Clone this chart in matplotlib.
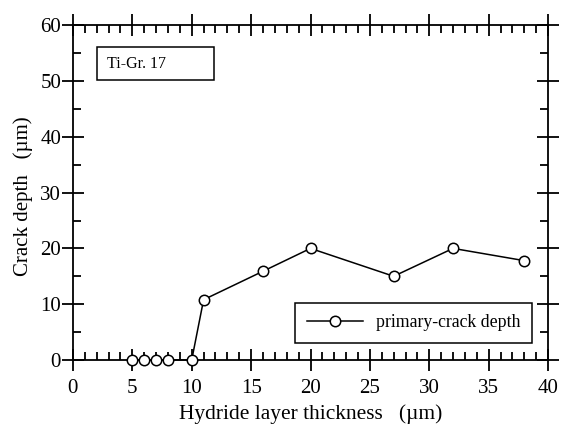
import matplotlib.pyplot as plt
from matplotlib.patches import Rectangle
from matplotlib.ticker import MultipleLocator

# hydride layer thickness (um) vs primary crack depth (um)
thickness = [5, 6, 7, 8, 10, 11, 16, 20, 27, 32, 38]
crack_depth = [0, 0, 0, 0, 0, 10.8, 15.9, 20, 15, 20, 17.8]
series_label = "primary-crack depth"
material = "Ti-Gr. 17"

plt.rcParams['font.family'] = ['Liberation Serif', 'DejaVu Serif']
plt.rcParams['mathtext.fontset'] = 'stix'

fig = plt.figure(figsize=(5.61, 4.29), dpi=100)
ax = fig.add_axes([0.130, 0.161, 0.847, 0.780])

ax.plot(thickness, crack_depth, color="black", lw=1.1, marker="o", ms=7.5,
        mfc="white", mec="black", mew=1.1, label=series_label, clip_on=False, zorder=5)

ax.set_xlim(0, 40)
ax.set_ylim(0, 60)
ax.xaxis.set_major_locator(MultipleLocator(5))
ax.xaxis.set_minor_locator(MultipleLocator(1))
ax.yaxis.set_major_locator(MultipleLocator(10))
ax.yaxis.set_minor_locator(MultipleLocator(5))

for s in ax.spines.values():
    s.set_linewidth(1.3)

ax.tick_params(which="major", direction="inout", length=16, width=1.3,
               top=True, right=True, labelsize=15)
ax.tick_params(which="minor", direction="in", length=6, width=1.3,
               top=True, right=True)
ax.tick_params(axis="x", which="major", pad=6)
ax.tick_params(axis="y", which="major", pad=0.5)

ax.set_xlabel("Hydride layer thickness   (\u00b5m)", fontsize=15.4, labelpad=4)
ax.set_ylabel("Crack depth   (\u00b5m)", fontsize=15, labelpad=4)
ax.yaxis.set_label_coords(-0.085, 0.49)

ax.add_patch(Rectangle((0.05, 0.836), 0.246, 0.098, transform=ax.transAxes,
                       fill=False, ec="black", lw=1.1, zorder=6))
ax.text(0.072, 0.885, material, transform=ax.transAxes, fontsize=11.5,
        va="center", ha="left")

leg = ax.legend(loc="lower right", bbox_to_anchor=(0.966, 0.051), fontsize=12.8,
                fancybox=False, framealpha=1, edgecolor="black",
                handlelength=3.2, borderpad=0.65, handletextpad=0.7, borderaxespad=0)
leg.get_frame().set_linewidth(1.1)

fig.savefig("out.png", dpi=100)
